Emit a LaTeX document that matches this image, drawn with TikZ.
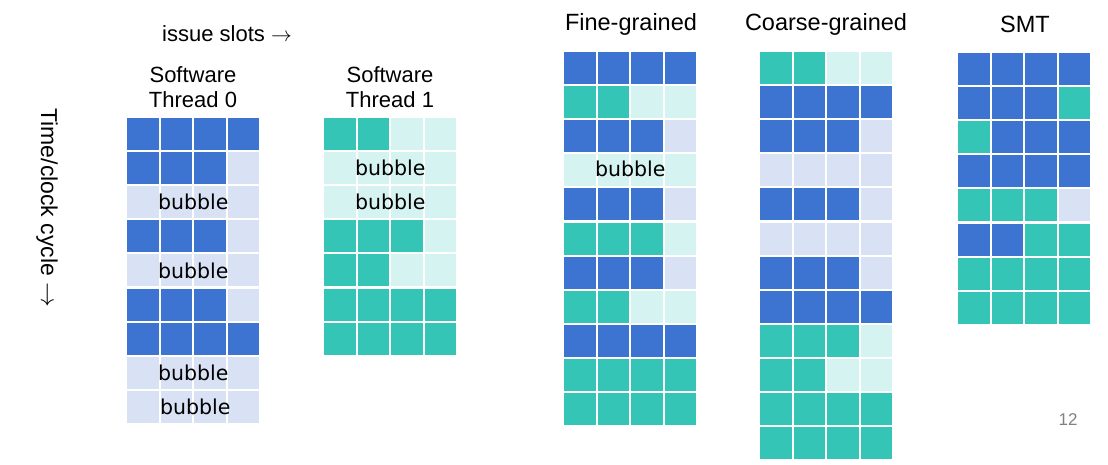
\documentclass[tikz,border=0pt]{standalone}
\usepackage{fontspec}
\setmainfont{Liberation Sans}
\newfontfamily\bubblefont{DejaVu Sans}

\definecolor{slotblue}{RGB}{61,116,210}
\definecolor{slotpale}{RGB}{217,226,245}
\definecolor{slotteal}{RGB}{52,197,183}
\definecolor{slotmint}{RGB}{213,243,240}

% Grid of issue slots: x, y of the upper left corner, rows of colours.
\newcommand{\slotgrid}[3]{%
  \foreach \slots [count=\ri from 0] in {#3} {
    \foreach \col [count=\ci from 0] in \slots {
      \fill[fill=\col] ({#1+\ci*33.6},{#2+\ri*34.1}) rectangle ++(31.6,32);
    }
  }}

\begin{document}
\begin{tikzpicture}[x=1pt,y=-1pt,
    headtext/.style={font=\fontsize{22}{25}\selectfont,align=center},
    titletext/.style={font=\fontsize{23.5}{26}\selectfont},
    bubbletext/.style={font=\bubblefont\fontsize{20.5}{24}\selectfont}]
        \useasboundingbox (0,0) rectangle (1108,464);

        % Axes.
        \node[headtext] (slots) at (227,34) {issue slots $\rightarrow$};
        \node[headtext,font=\fontsize{23}{25}\selectfont,rotate=-90]
            (time) at (47,208) {Time/clock cycle $\rightarrow$};

        % Software threads.
        \node[headtext] (thr0) at (193,87) {Software\\Thread 0};
        \node[headtext] (thr1) at (390,87) {Software\\Thread 1};

        \slotgrid{127}{118}{{slotblue,slotblue,slotblue,slotblue},
            {slotblue,slotblue,slotblue,slotpale},
            {slotpale,slotpale,slotpale,slotpale},
            {slotblue,slotblue,slotblue,slotpale},
            {slotpale,slotpale,slotpale,slotpale},
            {slotblue,slotblue,slotblue,slotpale},
            {slotblue,slotblue,slotblue,slotblue},
            {slotpale,slotpale,slotpale,slotpale},
            {slotpale,slotpale,slotpale,slotpale}}
        \node[bubbletext] (b0a) at (193.2,202.2) {bubble};
        \node[bubbletext] (b0b) at (193.2,270.4) {bubble};
        \node[bubbletext] (b0c) at (193.2,372.7) {bubble};
        \node[bubbletext] (b0d) at (195.2,406.8) {bubble};

        \slotgrid{324}{118}{{slotteal,slotteal,slotmint,slotmint},
            {slotmint,slotmint,slotmint,slotmint},
            {slotmint,slotmint,slotmint,slotmint},
            {slotteal,slotteal,slotteal,slotmint},
            {slotteal,slotteal,slotmint,slotmint},
            {slotteal,slotteal,slotteal,slotteal},
            {slotteal,slotteal,slotteal,slotteal}}
        \node[bubbletext] (b1a) at (390.2,168.1) {bubble};
        \node[bubbletext] (b1b) at (390.2,202.2) {bubble};

        % Multithreading schemes.
        \node[titletext] (fine) at (631,24) {Fine-grained};
        \slotgrid{564}{52}{{slotblue,slotblue,slotblue,slotblue},
            {slotteal,slotteal,slotmint,slotmint},
            {slotblue,slotblue,slotblue,slotpale},
            {slotmint,slotmint,slotmint,slotmint},
            {slotblue,slotblue,slotblue,slotpale},
            {slotteal,slotteal,slotteal,slotmint},
            {slotblue,slotblue,slotblue,slotpale},
            {slotteal,slotteal,slotmint,slotmint},
            {slotblue,slotblue,slotblue,slotblue},
            {slotteal,slotteal,slotteal,slotteal},
            {slotteal,slotteal,slotteal,slotteal}}
        \node[bubbletext] (bfa) at (630.2,169.3) {bubble};

        \node[titletext] (coarse) at (826,24) {Coarse-grained};
        \slotgrid{760}{52}{{slotteal,slotteal,slotmint,slotmint},
            {slotblue,slotblue,slotblue,slotblue},
            {slotblue,slotblue,slotblue,slotpale},
            {slotpale,slotpale,slotpale,slotpale},
            {slotblue,slotblue,slotblue,slotpale},
            {slotpale,slotpale,slotpale,slotpale},
            {slotblue,slotblue,slotblue,slotpale},
            {slotblue,slotblue,slotblue,slotblue},
            {slotteal,slotteal,slotteal,slotmint},
            {slotteal,slotteal,slotmint,slotmint},
            {slotteal,slotteal,slotteal,slotteal},
            {slotteal,slotteal,slotteal,slotteal}}

        \node[titletext] (smt) at (1025,24) {SMT};
        \slotgrid{958}{53}{{slotblue,slotblue,slotblue,slotblue},
            {slotblue,slotblue,slotblue,slotteal},
            {slotteal,slotblue,slotblue,slotblue},
            {slotblue,slotblue,slotblue,slotblue},
            {slotteal,slotteal,slotteal,slotpale},
            {slotblue,slotblue,slotteal,slotteal},
            {slotteal,slotteal,slotteal,slotteal},
            {slotteal,slotteal,slotteal,slotteal}}

        % Page number.
        \node[font=\fontsize{17}{19}\selectfont,text=gray] (page) at (1068,420) {12};
    \end{tikzpicture}
\end{document}
